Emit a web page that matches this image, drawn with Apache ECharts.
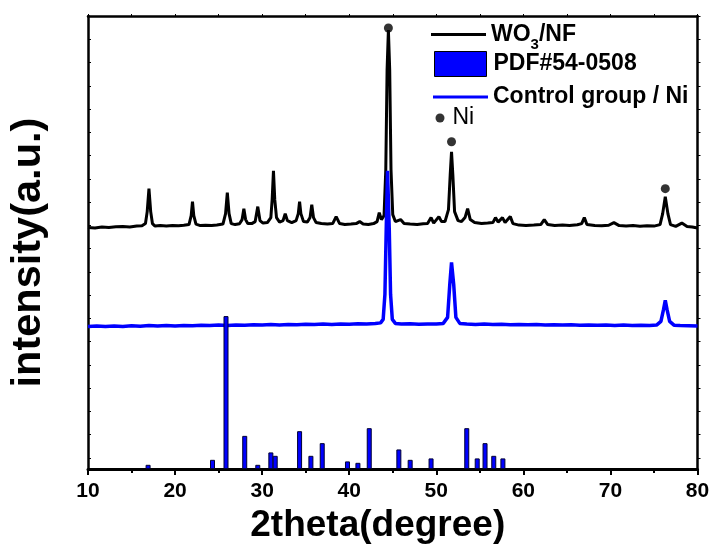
<!DOCTYPE html>
<html><head><meta charset="utf-8">
<script src="https://cdn.jsdelivr.net/npm/echarts@6/dist/echarts.min.js"></script>
<style>html,body{margin:0;padding:0;background:#fff}#c{width:713px;height:549px}</style>
</head><body><div id="c"></div>
<script>
// ---- data (x = 2theta in degrees, y = intensity in a.u.) ----
const wo3nf = [
 [10,242],[10.8,241.5],[11.6,242.5],[12.4,242],[13.2,242.8],[14,243],[14.8,242.6],[15.6,243.5],[16.2,243.8],
 [16.6,246],[16.8,258],[17.0,281],[17.2,258],[17.4,246],[17.7,243.5],[18.3,244],[19,243.6],[19.7,244.2],
 [20.4,243.8],[21.0,244.3],[21.6,245],[21.85,254],[22.0,268],[22.15,254],[22.4,245.5],[22.9,244],[23.5,244.4],
 [24.2,244],[24.8,244.6],[25.5,245.5],[25.8,256],[26.0,277],[26.2,256],[26.45,246],[26.9,245],[27.4,245.8],
 [27.7,250],[27.9,261],[28.1,250],[28.35,246],[28.8,246],[29.2,248],[29.5,263],[29.75,249],[30.1,246.5],
 [30.6,247],[31.0,252],[31.15,270],[31.3,299],[31.45,270],[31.65,252],[32.0,247.5],[32.4,249],[32.65,256],
 [32.9,249],[33.4,247],[33.9,249],[34.15,256],[34.3,268],[34.45,256],[34.75,248],[35.2,247.5],[35.5,252],
 [35.7,265],[35.9,252],[36.2,247],[36.8,246],[37.5,245.5],[38.1,246],[38.5,253],[38.9,246],[39.5,245],
 [40.2,245.5],[40.8,246],[41.2,248],[41.6,245.5],[42.2,245],[42.8,246],[43.2,248],[43.45,257],[43.7,250],
 [44.0,254],[44.2,300],[44.35,400],[44.5,440],[44.65,400],[44.8,300],[45.0,255],[45.3,248],[45.9,250],
 [46.3,246],[47.0,245.5],[47.8,245],[48.5,245.8],[49.0,246],[49.4,252],[49.7,246.5],[50.3,253],[50.6,248],
 [51.0,248],[51.4,260],[51.6,295],[51.75,318],[51.9,295],[52.1,258],[52.5,249],[52.9,248],[53.3,252],
 [53.6,261],[53.9,250],[54.4,247],[55.2,246],[55.9,246.5],[56.5,247],[56.8,252],[57.1,247.5],[57.6,252],
 [57.9,247],[58.5,253],[58.8,246],[59.5,244.5],[60.3,244],[61.2,244.5],[62.0,245],[62.4,250],[62.8,245],
 [63.6,244],[64.5,244.5],[65.3,244],[66.2,244.8],[66.7,246],[67.0,252],[67.3,245],[68.2,244],[69.0,243.8],
 [69.8,244.3],[70.4,247],[71.0,244],[71.8,243.5],[72.6,244],[73.4,243.4],[74.2,243.8],[75.0,243.5],
 [75.7,245],[76.0,256],[76.3,273],[76.6,256],[76.9,245],[77.5,243.2],[78.2,246.5],[78.8,243],[79.4,242.5],[80,241.5]
];
const controlNi = [
 [10,143],[11,143.5],[12,142.8],[13,143.4],[14,143],[15,143.6],[16,143.2],[17,143.8],[18,143.4],[19,144],
 [20,143.5],[21,144],[22,143.7],[23,144.2],[24,143.8],[25,144.4],[26,144],[27,144.5],[28,144.2],[29,144.6],
 [30,144.3],[31,144.8],[32,144.5],[33,145],[34,144.6],[35,145.2],[36,144.8],[37,145.3],[38,145],[39,145.4],
 [40,145.1],[41,145.6],[42,145.3],[43,145.8],[43.6,146.5],[43.9,150],[44.1,175],[44.25,240],[44.4,299],
 [44.6,240],[44.75,175],[44.95,150],[45.3,146],[46,145.3],[47,145.6],[48,145.2],[49,145.5],[50,145.3],
 [50.8,146],[51.3,152],[51.55,185],[51.75,207],[52.0,185],[52.25,152],[52.7,146],[53.5,145.3],[54.5,145],
 [55.5,145.3],[56.5,144.8],[57.5,145.1],[58.5,144.7],[59.5,145],[60.5,144.6],[61.5,144.9],[62.5,144.4],
 [63.5,144.7],[64.5,144.3],[65.5,144.6],[66.5,144.2],[67.5,144.5],[68.5,144.1],[69.5,144.4],[70.5,144],
 [71.5,144.3],[72.5,143.9],[73.5,144.2],[74.5,143.8],[75.3,144.3],[75.8,148],[76.1,160],[76.3,169],
 [76.5,160],[76.8,148],[77.3,144.2],[78,143.8],[79,143.6],[80,143.3]
];
const pdf540508 = [
 [16.9,4.3],[24.3,9.3],[25.85,153.3],[28.0,33.3],[29.5,4.3],[31.0,16.7],[31.5,13.3],[34.3,38],[35.6,13.3],
 [36.9,26],[39.8,7.7],[41.0,6.3],[42.3,41],[45.7,19.7],[47.0,9.3],[49.4,10.7],[53.5,41],[54.7,10.7],
 [55.6,26],[56.6,13.3],[57.65,10.7]
];
const niPeaks = [[44.5,442],[51.75,328],[76.3,281]];
const xMin = 10, xMax = 80, xStep = 10;
const yMin = 0, yMax = 454, yTickStep = 23.3;
const yTicks = [];
for (let v = yMax; v > yMin; v -= yTickStep) yTicks.push(Math.round(v * 100) / 100);

const FONT = '"Liberation Sans", Arial, Helvetica, sans-serif';
const chart = echarts.init(document.getElementById('c'), null, {renderer: 'canvas'});
const bold23 = {fontFamily: FONT, fontWeight: 'bold', fontSize: 23, color: '#000', lineHeight: 24};

chart.setOption({
  animation: false,
  backgroundColor: '#fff',
  grid: {left: 87, right: 15.5, top: 16, bottom: 79, containLabel: false},
  xAxis: [{
    type: 'value', min: xMin, max: xMax, interval: xStep, position: 'bottom',
    name: '2theta(degree)', nameLocation: 'middle', nameGap: 36,
    nameTextStyle: {fontFamily: FONT, fontWeight: 'bold', fontSize: 37, color: '#000', padding: [0, 30, 0, 0]},
    axisLine: {onZero: false, lineStyle: {color: '#000', width: 3}},
    axisTick: {inside: false, length: 6, lineStyle: {color: '#000', width: 2}},
    minorTick: {show: true, splitNumber: 2, length: 4, lineStyle: {color: '#000', width: 2}},
    axisLabel: {fontFamily: FONT, fontWeight: 'bold', fontSize: 21, color: '#000', margin: 12},
    splitLine: {show: false}
  }, {
    type: 'value', min: xMin, max: xMax, interval: 5, position: 'top',
    axisLine: {show: true, onZero: false, lineStyle: {color: '#000', width: 2.5}},
    axisTick: {show: true, inside: false, length: 2, lineStyle: {color: '#000', width: 1}},
    axisLabel: {show: false}, splitLine: {show: false}
  }],
  yAxis: [{
    type: 'value', min: yMin, max: yMax, position: 'left',
    name: 'intensity(a.u.)', nameLocation: 'middle', nameGap: 38,
    nameTextStyle: {fontFamily: FONT, fontWeight: 'bold', fontSize: 41.5, color: '#000', padding: [0, 20, 0, 0]},
    axisLine: {show: true, onZero: false, lineStyle: {color: '#000', width: 2.5}},
    axisTick: {show: true, inside: true, length: 3, customValues: yTicks, lineStyle: {color: '#000', width: 1}},
    axisLabel: {show: false}, splitLine: {show: false}
  }, {
    type: 'value', min: yMin, max: yMax, position: 'right',
    axisLine: {show: true, onZero: false, lineStyle: {color: '#000', width: 2.5}},
    axisTick: {show: true, inside: false, length: 3, customValues: yTicks, lineStyle: {color: '#000', width: 1}},
    axisLabel: {show: false}, splitLine: {show: false}
  }],
  legend: [{
    selectedMode: false, orient: 'vertical', left: 431, top: 23, padding: 0,
    itemWidth: 55, itemHeight: 3,
    data: [{name: 'WO3/NF', icon: 'rect'}],
    formatter: () => '{a|WO}{b|3}{a|/NF}',
    textStyle: {rich: {
      a: {fontFamily: FONT, fontWeight: 'bold', fontSize: 23, color: '#000', lineHeight: 36, verticalAlign: 'middle'},
      b: {fontFamily: FONT, fontWeight: 'bold', fontSize: 15, color: '#000', lineHeight: 14, verticalAlign: 'bottom'}
    }}
  }, {
    selectedMode: false, orient: 'vertical', left: 434, top: 51, padding: 0,
    itemWidth: 52, itemHeight: 25,
    data: [{name: 'PDF#54-0508', icon: 'rect', itemStyle: {color: '#0000ff', borderColor: '#000', borderWidth: 1}}],
    textStyle: Object.assign({}, bold23, {padding: [0, 0, 0, 2]})
  }, {
    selectedMode: false, orient: 'vertical', left: 433, top: 85, padding: 0,
    itemWidth: 55, itemHeight: 3,
    data: [{name: 'Control group / Ni', icon: 'rect'}],
    textStyle: bold23
  }, {
    selectedMode: false, orient: 'vertical', left: 435.5, top: 106, padding: 0,
    itemWidth: 9, itemHeight: 9,
    data: [{name: 'Ni', icon: 'circle'}],
    textStyle: {fontFamily: FONT, fontSize: 23, color: '#000', lineHeight: 24, padding: [0, 0, 0, 3]}
  }],
  series: [{
    name: 'WO3/NF', type: 'line', data: wo3nf, showSymbol: false, symbol: 'none',
    lineStyle: {color: '#000', width: 3}, itemStyle: {color: '#000'}, z: 2
  }, {
    name: 'Control group / Ni', type: 'line', data: controlNi, showSymbol: false, symbol: 'none',
    lineStyle: {color: '#0000ff', width: 3.5}, itemStyle: {color: '#0000ff'}, z: 3
  }, {
    name: 'PDF#54-0508', type: 'bar', data: pdf540508, barWidth: 5,
    itemStyle: {color: '#0000ff', borderColor: '#000033', borderWidth: 1}, z: 4
  }, {
    name: 'Ni', type: 'scatter', data: niPeaks, symbol: 'circle', symbolSize: 9,
    itemStyle: {color: '#000'}, z: 5
  }]
});
</script></body></html>
